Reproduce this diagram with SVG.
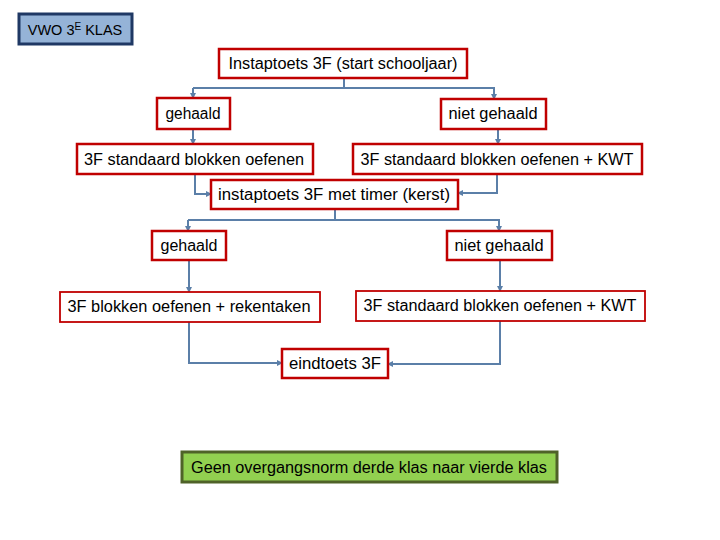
<svg xmlns="http://www.w3.org/2000/svg" width="720" height="540" viewBox="0 0 720 540">
<style>
text{font-family:"Liberation Sans","Open Sans",sans-serif;font-size:16px;fill:#000;text-anchor:middle}
.r{fill:#fff;stroke:#c00000;stroke-width:2.5}
.rt{fill:#fff;stroke:#c00000;stroke-width:1.8}
.c{fill:none;stroke:#5b7fa8;stroke-width:2}
.a{fill:none;stroke:#5b7fa8;stroke-width:2;marker-end:url(#ah)}
</style>
<defs>
<marker id="ah" viewBox="0 0 6 6" refX="5" refY="3" markerWidth="3" markerHeight="3" orient="auto" markerUnits="strokeWidth">
<path d="M0,0 L6,3 L0,6 z" fill="#5b7fa8"/>
</marker>
</defs>
<rect width="720" height="540" fill="#fff"/>
<g id="connectors">
<path class="c" d="M344,78 V88 H193"/>
<path class="a" d="M193,88 V98"/>
<path class="a" d="M344,88 H494 V99"/>
<path class="a" d="M193,129 V144"/>
<path class="a" d="M498,129 V144"/>
<path class="a" d="M195,174 V194 H211"/>
<path class="a" d="M497,174 V193 H458"/>
<path class="c" d="M335,209 V220 H188"/>
<path class="a" d="M188,220 V231"/>
<path class="a" d="M335,220 H499 V231"/>
<path class="a" d="M189,260 V292"/>
<path class="a" d="M500,260 V291"/>
<path class="a" d="M189,322 V363 H282"/>
<path class="a" d="M500,321 V364 H388"/>
</g>
<g id="vwo">
<rect x="19" y="14" width="113" height="30" fill="#95b3d7" stroke="#1f3864" stroke-width="3"/>
<text x="75" y="35" style="font-size:14.5px">VWO 3<tspan font-size="10" baseline-shift="5">E</tspan> KLAS</text>
</g>
<g id="instap">
<rect class="r" x="219" y="49" width="248" height="29"/>
<text x="343" y="69" textLength="229" lengthAdjust="spacingAndGlyphs">Instaptoets 3F (start schooljaar)</text>
</g>
<g id="gehaald1">
<rect class="r" x="157" y="98" width="73" height="31"/>
<text x="193" y="119" textLength="55" lengthAdjust="spacingAndGlyphs">gehaald</text>
</g>
<g id="nietgehaald1">
<rect class="r" x="441" y="99" width="105" height="30"/>
<text x="493" y="119" textLength="89" lengthAdjust="spacingAndGlyphs">niet gehaald</text>
</g>
<g id="standaard1">
<rect class="r" x="77" y="144" width="236" height="30"/>
<text x="194" y="165" textLength="220" lengthAdjust="spacingAndGlyphs">3F standaard blokken oefenen</text>
</g>
<g id="kwt1">
<rect class="r" x="353" y="144" width="289" height="30"/>
<text x="497" y="165" textLength="273" lengthAdjust="spacingAndGlyphs">3F standaard blokken oefenen + KWT</text>
</g>
<g id="timer">
<rect class="r" x="211" y="180" width="247" height="29"/>
<text x="334" y="200" textLength="232" lengthAdjust="spacingAndGlyphs">instaptoets 3F met timer (kerst)</text>
</g>
<g id="gehaald2">
<rect class="r" x="152" y="231" width="74" height="29"/>
<text x="189" y="251" textLength="57" lengthAdjust="spacingAndGlyphs">gehaald</text>
</g>
<g id="nietgehaald2">
<rect class="r" x="447" y="231" width="105" height="29"/>
<text x="499" y="251" textLength="89" lengthAdjust="spacingAndGlyphs">niet gehaald</text>
</g>
<g id="rekentaken">
<rect class="rt" x="60" y="292" width="260" height="30"/>
<text x="189" y="312" textLength="243" lengthAdjust="spacingAndGlyphs">3F blokken oefenen + rekentaken</text>
</g>
<g id="kwt2">
<rect class="rt" x="356" y="291" width="289" height="30"/>
<text x="500" y="311" textLength="273" lengthAdjust="spacingAndGlyphs">3F standaard blokken oefenen + KWT</text>
</g>
<g id="eindtoets">
<rect class="r" x="282" y="349" width="106" height="29"/>
<text x="335" y="369" textLength="92" lengthAdjust="spacingAndGlyphs">eindtoets 3F</text>
</g>
<g id="overgang">
<rect x="182" y="452" width="375" height="30" fill="#92d050" stroke="#4f6228" stroke-width="3"/>
<text x="369" y="473" textLength="356" lengthAdjust="spacingAndGlyphs">Geen overgangsnorm derde klas naar vierde klas</text>
</g>
</svg>
